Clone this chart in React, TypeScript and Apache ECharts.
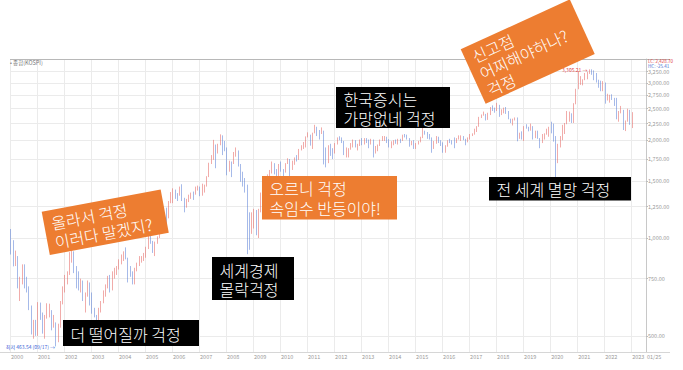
import React, { useEffect, useRef } from "react";
import * as echarts from "echarts";

const FONT = '"Noto Sans CJK KR", "Noto Sans", sans-serif';
const startYear = 2000;

// Monthly KOSPI candles (Jan 2000 – Jan 2023)
const opens = [
  [1059, 943, 828, 860, 725, 731, 821, 705, 688, 613, 514, 526],
  [504, 620, 577, 523, 570, 595, 595, 541, 545, 479, 535, 633],
  [693, 723, 771, 895, 903, 797, 743, 714, 724, 646, 669, 714],
  [627, 591, 575, 535, 600, 634, 670, 714, 760, 697, 779, 796],
  [810, 848, 880, 880, 862, 803, 785, 735, 800, 835, 845, 870],
  [896, 932, 1011, 965, 911, 970, 1008, 1111, 1083, 1221, 1158, 1297],
  [1379, 1399, 1371, 1359, 1419, 1317, 1295, 1297, 1352, 1371, 1365, 1432],
  [1434, 1360, 1417, 1452, 1542, 1700, 1743, 1933, 1873, 1946, 2064, 1906],
  [1897, 1624, 1711, 1704, 1825, 1852, 1674, 1594, 1474, 1448, 1113, 1076],
  [1124, 1162, 1063, 1206, 1369, 1395, 1390, 1557, 1591, 1673, 1580, 1555],
  [1682, 1602, 1594, 1692, 1741, 1641, 1698, 1759, 1742, 1872, 1882, 1904],
  [2051, 2069, 1939, 2106, 2192, 2142, 2100, 2133, 1880, 1769, 1909, 1847],
  [1826, 1955, 2030, 2014, 1981, 1843, 1854, 1881, 1905, 1996, 1912, 1933],
  [1997, 1961, 2026, 2005, 1963, 2001, 1863, 1914, 1926, 1997, 2030, 2045],
  [2011, 1941, 1980, 1985, 1961, 2017, 2002, 2076, 2068, 2020, 1964, 1981],
  [1916, 1949, 1986, 2041, 2127, 2114, 2074, 2030, 1941, 1963, 2029, 1991],
  [1961, 1912, 1917, 1995, 1994, 1983, 1970, 2016, 2034, 2043, 2008, 1983],
  [2026, 2067, 2091, 2160, 2205, 2347, 2392, 2402, 2363, 2394, 2523, 2476],
  [2467, 2566, 2427, 2445, 2515, 2423, 2326, 2295, 2322, 2343, 2029, 2096],
  [2041, 2204, 2195, 2140, 2203, 2041, 2130, 2024, 1967, 2063, 2083, 2087],
  [2197, 2119, 1987, 1754, 1947, 2029, 2108, 2249, 2326, 2327, 2267, 2591],
  [2873, 2976, 3013, 3061, 3147, 3204, 3297, 3202, 3199, 3068, 2970, 2839],
  [2977, 2663, 2699, 2757, 2695, 2685, 2332, 2451, 2472, 2155, 2293, 2472],
  [2236],
].flat();

const closes = [
  [943, 828, 860, 725, 731, 821, 705, 688, 613, 514, 526, 504],
  [620, 577, 523, 570, 595, 595, 541, 545, 479, 535, 633, 693],
  [723, 771, 895, 903, 797, 743, 714, 724, 646, 669, 714, 627],
  [591, 575, 535, 600, 634, 670, 714, 760, 697, 779, 796, 810],
  [848, 880, 880, 862, 803, 785, 735, 800, 835, 845, 870, 896],
  [932, 1011, 965, 911, 970, 1008, 1111, 1083, 1221, 1158, 1297, 1379],
  [1399, 1371, 1359, 1419, 1317, 1295, 1297, 1352, 1371, 1365, 1432, 1434],
  [1360, 1417, 1452, 1542, 1700, 1743, 1933, 1873, 1946, 2064, 1906, 1897],
  [1624, 1711, 1704, 1825, 1852, 1674, 1594, 1474, 1448, 1113, 1076, 1124],
  [1162, 1063, 1206, 1369, 1395, 1390, 1557, 1591, 1673, 1580, 1555, 1682],
  [1602, 1594, 1692, 1741, 1641, 1698, 1759, 1742, 1872, 1882, 1904, 2051],
  [2069, 1939, 2106, 2192, 2142, 2100, 2133, 1880, 1769, 1909, 1847, 1826],
  [1955, 2030, 2014, 1981, 1843, 1854, 1881, 1905, 1996, 1912, 1933, 1997],
  [1961, 2026, 2005, 1963, 2001, 1863, 1914, 1926, 1997, 2030, 2045, 2011],
  [1941, 1980, 1985, 1961, 2017, 2002, 2076, 2068, 2020, 1964, 1981, 1916],
  [1949, 1986, 2041, 2127, 2114, 2074, 2030, 1941, 1963, 2029, 1991, 1961],
  [1912, 1917, 1995, 1994, 1983, 1970, 2016, 2034, 2043, 2008, 1983, 2026],
  [2067, 2091, 2160, 2205, 2347, 2392, 2402, 2363, 2394, 2523, 2476, 2467],
  [2566, 2427, 2445, 2515, 2423, 2326, 2295, 2322, 2343, 2029, 2096, 2041],
  [2204, 2195, 2140, 2203, 2041, 2130, 2024, 1967, 2063, 2083, 2087, 2197],
  [2119, 1987, 1754, 1947, 2029, 2108, 2249, 2326, 2327, 2267, 2591, 2873],
  [2976, 3013, 3061, 3147, 3204, 3297, 3202, 3199, 3068, 2970, 2839, 2977],
  [2663, 2699, 2757, 2695, 2685, 2332, 2451, 2472, 2155, 2293, 2472, 2236],
  [2428.71],
].flat();

const lows = [
  [890, 818, 820, 700, 640, 720, 700, 680, 600, 505, 490, 500],
  [500, 560, 508, 490, 565, 570, 520, 530, 464, 478, 530, 625],
  [680, 720, 770, 840, 780, 700, 690, 680, 640, 590, 660, 620],
  [585, 570, 515, 530, 590, 630, 660, 700, 680, 690, 750, 770],
  [800, 830, 850, 860, 730, 760, 720, 720, 790, 820, 840, 850],
  [870, 925, 960, 900, 880, 960, 1000, 1060, 1080, 1110, 1150, 1280],
  [1280, 1320, 1300, 1350, 1300, 1200, 1240, 1290, 1320, 1310, 1360, 1400],
  [1345, 1350, 1380, 1440, 1540, 1690, 1740, 1640, 1820, 1930, 1800, 1850],
  [1560, 1600, 1540, 1690, 1780, 1660, 1490, 1440, 1380, 892, 920, 1030],
  [1070, 1020, 1000, 1200, 1330, 1340, 1380, 1540, 1580, 1570, 1520, 1550],
  [1600, 1550, 1590, 1690, 1530, 1620, 1680, 1720, 1740, 1860, 1880, 1900],
  [2040, 1925, 1880, 2100, 2060, 2010, 2090, 1685, 1650, 1700, 1790, 1750],
  [1820, 1940, 2000, 1960, 1800, 1770, 1770, 1870, 1900, 1900, 1860, 1920],
  [1930, 1940, 1960, 1890, 1940, 1770, 1820, 1850, 1920, 1990, 1990, 1960],
  [1900, 1890, 1930, 1950, 1940, 1960, 1990, 2040, 2010, 1910, 1930, 1880],
  [1880, 1940, 1970, 2030, 2080, 2020, 2010, 1830, 1880, 1950, 1960, 1920],
  [1830, 1830, 1910, 1960, 1940, 1890, 1960, 2010, 1990, 2000, 1930, 1970],
  [2010, 2060, 2080, 2120, 2200, 2340, 2380, 2300, 2310, 2390, 2460, 2430],
  [2460, 2360, 2390, 2420, 2410, 2320, 2260, 2220, 2300, 1985, 2020, 2010],
  [1990, 2170, 2130, 2140, 2010, 2030, 2020, 1890, 1960, 2010, 2080, 2050],
  [2100, 1980, 1439, 1700, 1900, 2000, 2090, 2240, 2280, 2260, 2260, 2580],
  [2870, 2960, 2950, 3060, 3080, 3200, 3180, 3060, 3010, 2900, 2830, 2830],
  [2591, 2650, 2610, 2660, 2550, 2320, 2280, 2420, 2150, 2134, 2280, 2230],
  [2180],
].flat();

const highs = [
  [1066, 985, 915, 880, 760, 830, 830, 760, 710, 620, 560, 560],
  [635, 633, 590, 580, 630, 628, 600, 580, 550, 545, 640, 710],
  [770, 790, 905, 937, 910, 820, 790, 750, 740, 680, 740, 730],
  [680, 610, 580, 610, 640, 690, 720, 765, 770, 790, 810, 820],
  [860, 890, 910, 936, 870, 820, 790, 810, 840, 880, 880, 900],
  [940, 1025, 1022, 980, 975, 1012, 1120, 1130, 1225, 1240, 1300, 1385],
  [1422, 1410, 1375, 1440, 1464, 1330, 1320, 1360, 1380, 1390, 1440, 1450],
  [1440, 1470, 1460, 1550, 1705, 1800, 2005, 1940, 1950, 2085, 2070, 1990],
  [1900, 1730, 1720, 1840, 1900, 1860, 1690, 1600, 1530, 1460, 1200, 1200],
  [1230, 1220, 1230, 1380, 1440, 1440, 1570, 1620, 1720, 1700, 1630, 1690],
  [1720, 1630, 1700, 1760, 1750, 1730, 1770, 1800, 1880, 1930, 1975, 2055],
  [2115, 2080, 2110, 2231, 2200, 2150, 2190, 2140, 1900, 1930, 1950, 1890],
  [1960, 2040, 2057, 2040, 1990, 1900, 1890, 1960, 2010, 2000, 1950, 2010],
  [2030, 2030, 2030, 2010, 2020, 2010, 1920, 1940, 2010, 2060, 2060, 2050],
  [2015, 1985, 2000, 2010, 2020, 2020, 2080, 2090, 2080, 2030, 1990, 2000],
  [1960, 1990, 2050, 2190, 2140, 2120, 2090, 2040, 1990, 2060, 2050, 2000],
  [1970, 1930, 2000, 2020, 2000, 2040, 2030, 2070, 2070, 2060, 2020, 2040],
  [2090, 2100, 2170, 2210, 2360, 2400, 2450, 2410, 2430, 2530, 2560, 2520],
  [2607, 2570, 2490, 2520, 2530, 2460, 2330, 2330, 2350, 2350, 2110, 2130],
  [2210, 2240, 2200, 2250, 2210, 2140, 2140, 2030, 2090, 2100, 2170, 2200],
  [2280, 2250, 2060, 1950, 2060, 2230, 2260, 2460, 2450, 2420, 2600, 2880],
  [3266, 3150, 3080, 3220, 3250, 3305, 3305, 3280, 3220, 3070, 3050, 3040],
  [3010, 2780, 2760, 2770, 2700, 2700, 2460, 2550, 2480, 2300, 2500, 2480],
  [2440],
].flat();

const yTicks = [500, 750, 1000, 1250, 1500, 1750, 2000, 2250, 2500, 2750, 3000, 3250];
const lastDateLabel = "01/25";
const lowLabel = "최저 463.54 (09/17) →";
const highLabel = "3,305.21 →";
const changeLabel = "1.16%";
const legendLabel = "• 종합(KOSPI)";
const lcLabel = "LC: 2,428.70";
const hcLabel = "HC: -25.41";

const notes = [
  { lines: ["올라서 걱정", "이러다 말겠지?"], color: "#ED7D31", x: 41.7, y: 211.7, w: 121, h: 44, rot: 10.6, lh: 19 },
  { lines: ["더 떨어질까 걱정"], color: "#000000", x: 63, y: 320, w: 136, h: 26, rot: 0, lh: 19 },
  { lines: ["세계경제", "몰락걱정"], color: "#000000", x: 212, y: 257, w: 82, h: 43, rot: 0, lh: 19 },
  { lines: ["오르니 걱정", "속임수 반등이야!"], color: "#ED7D31", x: 262, y: 176, w: 135, h: 43.5, rot: 0, lh: 20 },
  { lines: ["한국증시는", "가망없네 걱정"], color: "#000000", x: 336, y: 87, w: 114, h: 41, rot: 0, lh: 19 },
  { lines: ["전 세계 멸망 걱정"], color: "#000000", x: 489, y: 177, w: 142, h: 23.5, rot: 0, lh: 19 },
  { lines: ["신고점", "어찌해야하나?", "걱정"], color: "#ED7D31", x: 460.7, y: 49.3, w: 120, h: 60, rot: 24.6, lh: 18.5 },
];

const fmt2 = (v: number) =>
  v.toLocaleString("en-US", { minimumFractionDigits: 2, maximumFractionDigits: 2 });

export default function App() {
  const ref = useRef<HTMLDivElement>(null);
  useEffect(() => {
    const chart = echarts.init(ref.current!, null, { renderer: "svg" });
    const xOf = (i: number) => startYear + (i + 0.5) / 12;
    const data = closes.map((c, i) => [xOf(i), opens[i], c, lows[i], highs[i]]);
    let lowIdx = 0;
    let highIdx = 0;
    lows.forEach((v, i) => { if (v < lows[lowIdx]) lowIdx = i; });
    highs.forEach((v, i) => { if (v > highs[highIdx]) highIdx = i; });
    const last = closes[closes.length - 1];

    const noteEls = notes.map((n) => ({
      type: "group",
      x: n.x,
      y: n.y,
      rotation: (n.rot * Math.PI) / 180,
      z: 100,
      children: [
        { type: "rect", z: 100, shape: { x: 0, y: 0, width: n.w, height: n.h }, style: { fill: n.color } },
        {
          type: "text",
          z: 101,
          x: 7.5,
          y: n.h / 2 + 0.5,
          style: {
            text: n.lines.join("\n"),
            fill: "#ffffff",
            fontSize: 16,
            fontWeight: 300,
            lineHeight: n.lh,
            fontFamily: FONT,
            align: "left",
            verticalAlign: "middle",
          },
        },
      ],
    }));

    const option: any = {
      animation: false,
      backgroundColor: "#ffffff",
      textStyle: { fontFamily: FONT },
      grid: { left: 10, right: 37, top: 59, bottom: 18 },
      xAxis: {
        type: "value",
        min: 2000,
        max: 2023.55,
        interval: 1,
        axisLine: { show: true, lineStyle: { color: "#cfcfcf" } },
        axisTick: { show: false },
        splitLine: { show: true, lineStyle: { color: "#ebebeb", width: 1 } },
        axisLabel: {
          fontSize: 5.5,
          color: "#9a9a9a",
          align: "left",
          margin: 2,
          padding: [0, 0, 0, 1],
          showMaxLabel: true,
          showMinLabel: true,
          formatter: (v: number) => (v > 2023.1 ? lastDateLabel : String(Math.round(v))),
        },
      },
      yAxis: {
        type: "log",
        logBase: 10,
        position: "right",
        min: 446,
        max: 3556,
        axisLine: { show: true, lineStyle: { color: "#c8c8c8" } },
        axisTick: { show: true, customValues: yTicks, length: 2, lineStyle: { color: "#bdbdbd" } },
        axisLabel: {
          customValues: yTicks,
          fontSize: 5.5,
          color: "#9a9a9a",
          margin: 2,
          formatter: (v: number) => fmt2(v),
        },
        splitLine: { show: true, lineStyle: { color: "#ebebeb", width: 1 } },
      },
      series: [
        {
          type: "candlestick",
          data,
          encode: { x: 0, y: [1, 2, 3, 4] },
          barWidth: 1,
          itemStyle: {
            color: "#e25552",
            color0: "#4a72d2",
            borderColor: "#e25552",
            borderColor0: "#4a72d2",
            borderWidth: 0.7,
            opacity: 0.7,
          },
          markPoint: {
            symbol: "circle",
            symbolSize: 0,
            silent: true,
            data: [
              {
                coord: [xOf(lowIdx), lows[lowIdx]],
                label: { show: true, formatter: lowLabel, position: "left", distance: 1, color: "#3b5fd6", fontSize: 5 },
              },
              {
                coord: [xOf(highIdx), highs[highIdx]],
                label: { show: true, formatter: highLabel, position: "left", distance: 2, color: "#e0413f", fontSize: 5 },
              },
            ],
          },
          markLine: {
            symbol: "none",
            silent: true,
            lineStyle: { opacity: 0 },
            data: [{ yAxis: last }],
            label: {
              show: true,
              position: "end",
              distance: 0,
              formatter: `{a|${fmt2(last)}}\n{b|${changeLabel}}`,
              rich: {
                a: { backgroundColor: "#e8322f", color: "#ffffff", fontSize: 5, padding: [1, 3, 0, 2], lineHeight: 6.5 },
                b: { color: "#e8322f", fontSize: 4.8, padding: [0, 0, 0, 3], lineHeight: 6 },
              },
            },
          },
        },
      ],
      graphic: [
        { type: "line", z: 50, shape: { x1: 10, y1: 59.5, x2: 670, y2: 59.5 }, style: { stroke: "#b8b8b8", lineWidth: 1 } },
        { type: "line", z: 50, shape: { x1: 0, y1: 352.5, x2: 670, y2: 352.5 }, style: { stroke: "#d6d6d6", lineWidth: 1 } },
        { type: "text", z: 50, x: 10, y: 62.5, style: { text: legendLabel, fontSize: 5.5, fill: "#777777", fontFamily: FONT, verticalAlign: "middle" } },
        { type: "text", z: 50, x: 648, y: 60.6, style: { text: lcLabel, fontSize: 4.5, fill: "#e0413f", fontFamily: FONT, verticalAlign: "middle" } },
        { type: "text", z: 50, x: 648, y: 66.2, style: { text: hcLabel, fontSize: 4.5, fill: "#3d69cf", fontFamily: FONT, verticalAlign: "middle" } },
        ...noteEls,
      ],
    };
    chart.setOption(option);
    return () => chart.dispose();
  }, []);
  return (
    <div
      ref={ref}
      style={{ position: "absolute", left: 0, top: 0, width: 683, height: 370, background: "#fff" }}
    />
  );
}
